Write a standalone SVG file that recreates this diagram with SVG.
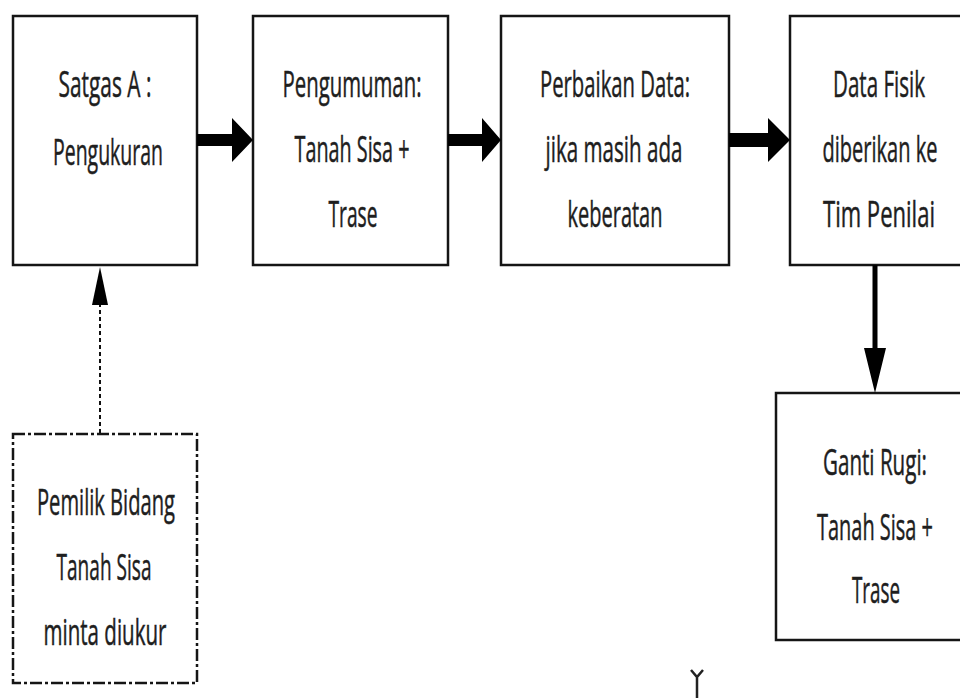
<svg xmlns="http://www.w3.org/2000/svg" width="960" height="698" viewBox="0 0 960 698">
<style>
.box{fill:#fff;stroke:#151515;stroke-width:2.5}
.dbox{fill:#fff;stroke:#151515;stroke-width:2.5;stroke-dasharray:12 3 3 3}
.t{font-family:"Open Sans","Liberation Sans",sans-serif;font-size:36px;fill:#1e1e1e;stroke:#1e1e1e;stroke-width:0.5;text-anchor:middle}
.arr{fill:#000}
</style>
<rect width="960" height="698" fill="#fff"/>
<g id="n1">
<rect class="box" x="13" y="16" width="184" height="249"/>
<text class="t" x="105" y="97" textLength="93" lengthAdjust="spacingAndGlyphs">Satgas A :</text>
<text class="t" x="108" y="165" textLength="110" lengthAdjust="spacingAndGlyphs">Pengukuran</text>
</g>
<g id="n2">
<rect class="box" x="253" y="16" width="195" height="249"/>
<text class="t" x="352" y="97" textLength="139" lengthAdjust="spacingAndGlyphs">Pengumuman:</text>
<text class="t" x="352" y="162" textLength="115" lengthAdjust="spacingAndGlyphs">Tanah Sisa +</text>
<text class="t" x="353" y="227" textLength="49" lengthAdjust="spacingAndGlyphs">Trase</text>
</g>
<g id="n3">
<rect class="box" x="501" y="16" width="228" height="249"/>
<text class="t" x="615" y="97" textLength="150" lengthAdjust="spacingAndGlyphs">Perbaikan Data:</text>
<text class="t" x="614" y="162" textLength="137" lengthAdjust="spacingAndGlyphs">jika masih ada</text>
<text class="t" x="615" y="227" textLength="95" lengthAdjust="spacingAndGlyphs">keberatan</text>
</g>
<g id="n4">
<rect class="box" x="790" y="16" width="172" height="249"/>
<text class="t" x="879" y="97" textLength="92" lengthAdjust="spacingAndGlyphs">Data Fisik</text>
<text class="t" x="880" y="162" textLength="115" lengthAdjust="spacingAndGlyphs">diberikan ke</text>
<text class="t" x="879" y="227" textLength="112" lengthAdjust="spacingAndGlyphs">Tim Penilai</text>
</g>
<g id="n5">
<rect class="box" x="776" y="393" width="186" height="247"/>
<text class="t" x="875" y="475" textLength="104" lengthAdjust="spacingAndGlyphs">Ganti Rugi:</text>
<text class="t" x="875" y="540" textLength="116" lengthAdjust="spacingAndGlyphs">Tanah Sisa +</text>
<text class="t" x="876" y="603" textLength="48" lengthAdjust="spacingAndGlyphs">Trase</text>
</g>
<g id="n6">
<rect class="dbox" x="13" y="434" width="184" height="249"/>
<text class="t" x="106" y="515" textLength="138" lengthAdjust="spacingAndGlyphs">Pemilik Bidang</text>
<text class="t" x="104" y="580" textLength="95" lengthAdjust="spacingAndGlyphs">Tanah Sisa</text>
<text class="t" x="105" y="645" textLength="123" lengthAdjust="spacingAndGlyphs">minta diukur</text>
</g>
<g id="connectors">
<polygon class="arr" points="197,134 232,134 232,118 253,140 232,162 232,146 197,146"/>
<polygon class="arr" points="448,134 482,134 482,118 501,140 482,162 482,146 448,146"/>
<polygon class="arr" points="729,133 768,133 768,118 790,140 768,162 768,147 729,147"/>
<polygon class="arr" points="872.5,265 877.5,265 877.5,348 886,348 875,393 864,348 872.5,348"/>
<line x1="100" y1="433" x2="100" y2="304" stroke="#111" stroke-width="2" stroke-dasharray="4 3"/>
<polygon class="arr" points="100,267 108,305 92,305"/>
</g>
<path d="M691,670 L697,677 L703,670 M697,677 L697,698" fill="none" stroke="#222" stroke-width="2.5"/>
</svg>
